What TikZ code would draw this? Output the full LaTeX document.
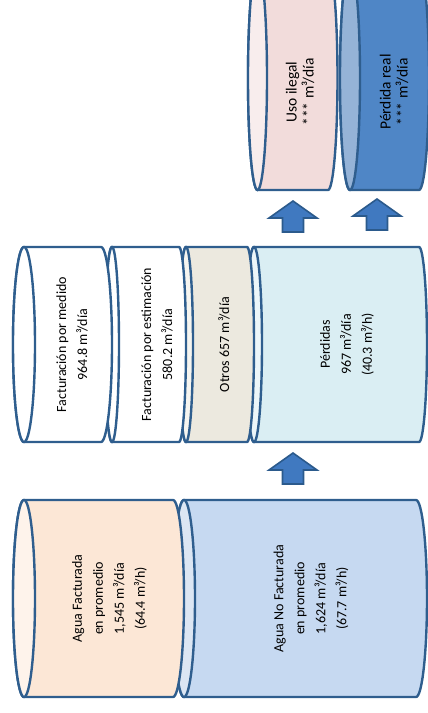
\documentclass[tikz,border=0pt]{standalone}
\usepackage{fontspec}
\setmainfont{Carlito}

\definecolor{canedge}{HTML}{2F5E8E}
\definecolor{arrowfill}{HTML}{4079C0}
\definecolor{arrowedge}{HTML}{2B5A8C}
\definecolor{factbody}{HTML}{FCE7D6}
\definecolor{factface}{HTML}{FEF3EB}
\definecolor{nofactbody}{HTML}{C6D9F1}
\definecolor{nofactface}{HTML}{DCE6F3}
\definecolor{otrosbody}{HTML}{ECE9DF}
\definecolor{otrosface}{HTML}{F6F5F0}
\definecolor{perdbody}{HTML}{DAEEF3}
\definecolor{perdface}{HTML}{ECF6F9}
\definecolor{ilegalbody}{HTML}{F2DCDB}
\definecolor{ilegalface}{HTML}{F8EDED}
\definecolor{realbody}{HTML}{4F86C6}
\definecolor{realface}{HTML}{95B3D7}

% lying can: #1 left face x, #2 right end x, #3 middle y, #4 half width of the ends, #5 half height
\newcommand{\can}[7]{%
  \draw[can line, fill=#6] (#1,#3-#5) -- (#2,#3-#5)
    arc[start angle=90, end angle=-90, x radius=#4pt, y radius=#5pt]
    -- (#1,#3+#5) arc[start angle=270, end angle=90, x radius=#4pt, y radius=#5pt] -- cycle;
  \draw[can line, fill=#7] (#1,#3) ellipse[x radius=#4pt, y radius=#5pt];
}

\tikzset{
  can line/.style={draw=canedge, line width=2.4pt},
  cantext/.style={rotate=90, align=center, font=\fontsize{14}{21}\selectfont},
  smalltext/.style={rotate=90, align=center, font=\fontsize{15.5}{17}\selectfont},
  upblock/.pic={
    \draw[fill=arrowfill, draw=arrowedge, line width=1.6pt, line join=miter]
      (0,0) -- (24,17) -- (10.5,17) -- (10.5,31) -- (-10.5,31) -- (-10.5,17) -- (-24,17) -- cycle;
  }
}

\begin{document}
\begin{tikzpicture}[x=1pt, y=-1pt]
            \useasboundingbox (0,0) rectangle (428,713);
            \clip (0,0) rectangle (428,713);
            % top row, cut by the upper edge
            \can{350}{419}{78}{10}{112}{realbody}{realface}
            \can{257.5}{328}{78}{9.5}{112}{ilegalbody}{ilegalface}
            \node[smalltext] (ilegal) at (300,92) {Uso ilegal\\*** m³/día};
            \node[smalltext] (real) at (394,92) {Pérdida real\\*** m³/día};
            \pic (up2) at (293,201) {upblock};
            \pic (up3) at (377,199) {upblock};
            % middle row
            \can{254}{419}{344.5}{8}{97.5}{perdbody}{perdface}
            \can{186}{247}{344.5}{7}{97.5}{otrosbody}{otrosface}
            \can{112}{179}{344.5}{7}{97.5}{white}{white}
            \can{24}{101}{344.5}{11}{97.5}{white}{white}
            \node[cantext] (medido) at (72,344.5) {Facturación por medido\\964.8 m³/día};
            \node[cantext] (estim) at (157,344.5) {Facturación por estimación\\580.2 m³/día};
            \node[cantext] (otros) at (224,344.5) {Otros 657 m³/día};
            \node[cantext] (perdidas) at (347,344.5) {Pérdidas\\967 m³/día\\(40.3 m³/h)};
            \pic (up1) at (293,453) {upblock};
            % bottom row
            \can{184}{416}{598.5}{11}{98.5}{nofactbody}{nofactface}
            \can{24}{173}{598.5}{11}{98.5}{factbody}{factface}
            \node[cantext] (fact) at (109.5,598.5) {Agua Facturada\\en promedio\\1,545 m³/día\\(64.4 m³/h)};
            \node[cantext] (nofact) at (311,598.5) {Agua No Facturada\\en promedio\\1,624 m³/día\\(67.7 m³/h)};
\end{tikzpicture}
\end{document}
